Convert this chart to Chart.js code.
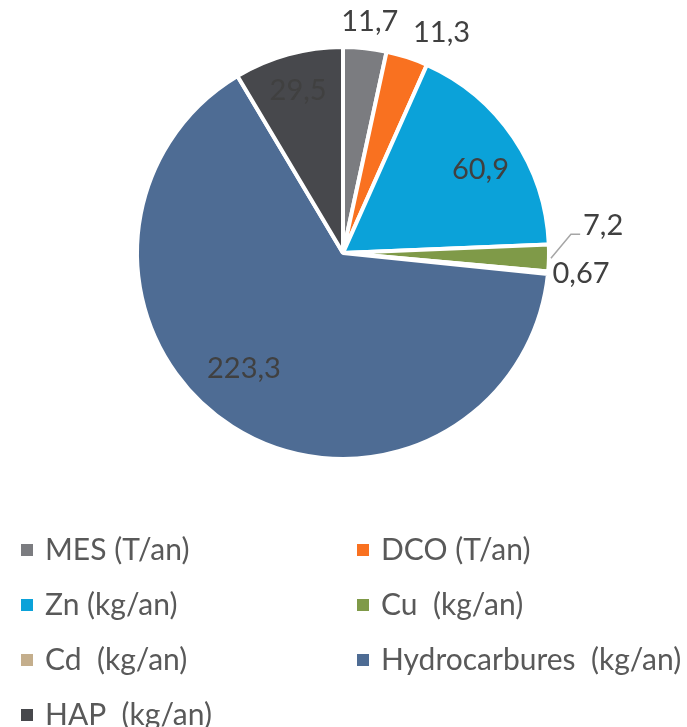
<!DOCTYPE html>
<html>
<head>
<meta charset="utf-8">
<script src="https://cdn.jsdelivr.net/npm/chart.js@4"></script>
<style>
  html, body { margin: 0; padding: 0; background: #fff; }
  #wrap { width: 687px; height: 727px; }
</style>
</head>
<body>
<div id="wrap"><canvas id="pieChart" width="687" height="727"></canvas></div>
<script>
const labels = ['MES (T/an)', 'DCO (T/an)', 'Zn (kg/an)', 'Cu  (kg/an)', 'Cd  (kg/an)', 'Hydrocarbures  (kg/an)', 'HAP  (kg/an)'];
const values = [11.7, 11.3, 60.9, 7.2, 0.67, 223.3, 29.5];
const valueText = ['11,7', '11,3', '60,9', '7,2', '0,67', '223,3', '29,5'];
const colors = ['#7b7c80', '#f97120', '#0ba2d9', '#7f9a48', '#c4ae8c', '#4e6c94', '#47484c'];

// label placement: radius factor relative to pie radius, angle shift in degrees
const labelPos = [
    { r: 1.13, shift: 0.5 },
    { r: 1.17, shift: 6 },
    { r: 0.78, shift: 3 },
    { r: 1.27, shift: -7.5, leader: true },
    { r: 1.16, shift: -0.5 },
    { r: 0.74, shift: 8 },
    { r: 0.82, shift: 0 }
];

const FONT = 'Lato, "Open Sans", sans-serif';

const valueLabels = {
    id: 'valueLabels',
    afterDatasetsDraw(chart) {
        const ctx = chart.ctx;
        const meta = chart.getDatasetMeta(0);
        ctx.save();
        ctx.font = '29px ' + FONT;
        ctx.textAlign = 'center';
        ctx.textBaseline = 'middle';
        meta.data.forEach((arc, i) => {
            const p = labelPos[i];
            const mid = (arc.startAngle + arc.endAngle) / 2 + p.shift * Math.PI / 180;
            const rr = arc.outerRadius * p.r;
            const x = arc.x + Math.cos(mid) * rr;
            const y = arc.y + Math.sin(mid) * rr;
            if (p.leader) {
                const a0 = (arc.startAngle + arc.endAngle) / 2;
                const sx = arc.x + Math.cos(a0) * (arc.outerRadius + 2);
                const sy = arc.y + Math.sin(a0) * (arc.outerRadius + 2);
                ctx.strokeStyle = '#a6a6a6';
                ctx.lineWidth = 1.5;
                ctx.beginPath();
                ctx.moveTo(sx, sy);
                ctx.lineTo(sx + 20, y + 9);
                ctx.lineTo(x - 23, y + 9);
                ctx.stroke();
            }
            ctx.fillStyle = '#404040';
            ctx.fillText(valueText[i], x, y);
        });
        ctx.restore();
    }
};

const gridLegend = {
    id: 'gridLegend',
    afterDraw(chart) {
        const ctx = chart.ctx;
        ctx.save();
        ctx.font = '30px ' + FONT;
        ctx.textBaseline = 'middle';
        ctx.textAlign = 'left';
        labels.forEach((lab, i) => {
            const col = i % 2;
            const row = Math.floor(i / 2);
            const mx = col === 0 ? 21 : 357;
            const cy = 550 + row * 55;
            ctx.fillStyle = colors[i];
            ctx.fillRect(mx, cy - 6, 12, 12);
            ctx.fillStyle = '#595959';
            ctx.fillText(lab, mx + 24, cy);
        });
        ctx.restore();
    }
};

document.addEventListener('DOMContentLoaded', () => {
    const ctx = document.getElementById('pieChart').getContext('2d');
    new Chart(ctx, {
        type: 'pie',
        data: {
            labels,
            datasets: [{
                data: values,
                backgroundColor: colors,
                borderColor: '#ffffff',
                borderWidth: 4
            }]
        },
        options: {
            responsive: false,
            animation: false,
            layout: { padding: { top: 45, bottom: 266, left: 134, right: 135 } },
            plugins: {
                legend: { display: false },
                tooltip: { enabled: false }
            }
        },
        plugins: [valueLabels, gridLegend]
    });
});
</script>
</body>
</html>
